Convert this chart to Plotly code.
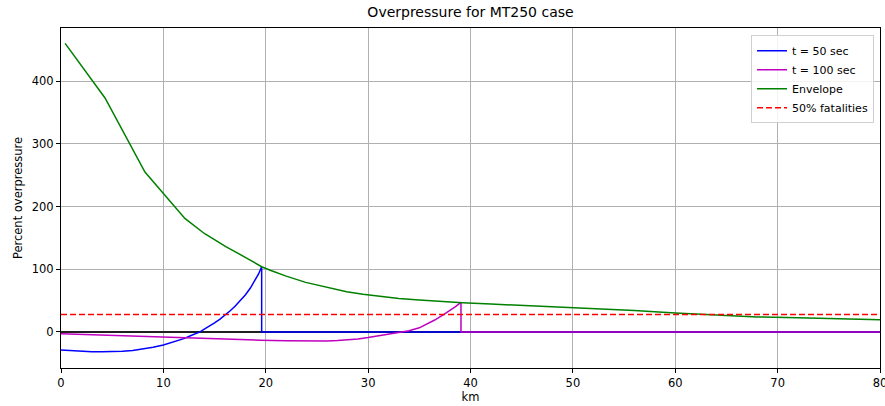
import plotly.graph_objects as go

# t = 50 sec profile
t50_x = [0, 1, 2, 3, 4, 5, 6, 7, 8, 9, 10, 11, 12, 12.76, 13.58, 14, 14.5, 15, 15.5, 16, 16.5, 17, 17.5, 18, 18.5, 19, 19.3, 19.6, 19.6, 80]
t50_y = [-28.7, -30.0, -30.9, -31.4, -31.6, -31.4, -30.7, -29.4, -27.4, -24.5, -20.7, -16.2, -10.7, -5.2, 0, 4.5, 9.2, 14.3, 20, 26.3, 33.3, 41, 49.5, 59, 70, 83, 92.5, 104, 0, 0]

# t = 100 sec profile
t100_x = [0, 4, 8, 12, 16, 19.4, 22, 24, 25, 26, 27, 28, 29, 30, 31, 32, 33, 33.44, 34, 35, 35.72, 36.5, 37.41, 38, 38.5, 39.07, 39.07, 80]
t100_y = [-3, -5.2, -7.6, -10, -12, -13.2, -14.1, -14.5, -14.6, -14.4, -13.8, -12.8, -11.2, -9, -6.5, -3.7, -1.2, 0, 2, 6.6, 12.2, 19, 28, 34, 40, 47, 0, 0]

# Envelope
env_x = [0.4, 4.3, 8.2, 12.1, 14, 16.1, 18, 19.6, 20.5, 22, 23.9, 26, 27.9, 29.5, 31.5, 33, 35, 37, 39.2, 42, 44, 48, 52, 56, 60, 64, 68, 72, 76, 80]
env_y = [460, 373, 255, 181, 157, 136, 119, 104, 98, 89, 79, 71, 64, 60, 56, 53.5, 51, 48.5, 46.5, 44.5, 43, 40.5, 37.5, 34, 30, 26.5, 24, 22.5, 21, 19.6]

# 50% fatalities threshold
fat_x = [0, 80]
fat_y = [28, 28]

font = "DejaVu Sans"

fig = go.Figure()
fig.add_trace(go.Scatter(x=t50_x, y=t50_y, mode="lines", name="t = 50 sec",
                         line=dict(color="#0000ff", width=1.5)))
fig.add_trace(go.Scatter(x=t100_x, y=t100_y, mode="lines", name="t = 100 sec",
                         line=dict(color="#bf00bf", width=1.5)))
fig.add_trace(go.Scatter(x=env_x, y=env_y, mode="lines", name="Envelope",
                         line=dict(color="#008000", width=1.5)))
fig.add_trace(go.Scatter(x=fat_x, y=fat_y, mode="lines", name="50% fatalities",
                         line=dict(color="#ff0000", width=1.5, dash="6px,3px")))

axis_common = dict(showline=True, mirror=True, linecolor="black", linewidth=1,
                   showgrid=True, gridcolor="#b0b0b0", gridwidth=1,
                   ticks="outside", ticklen=4, tickcolor="black",
                   ticklabeloverflow="allow", automargin=False,
                   tickfont=dict(family=font, size=11.5, color="black"))

fig.update_xaxes(range=[0, 80], tickvals=[0, 10, 20, 30, 40, 50, 60, 70, 80],
                 zeroline=False,
                 title=dict(text="km", font=dict(family=font, size=11.5, color="black"), standoff=4),
                 **axis_common)
fig.update_yaxes(range=[-57.5, 484.6], tickvals=[0, 100, 200, 300, 400],
                 zeroline=True, zerolinecolor="#202020", zerolinewidth=2,
                 title=dict(text="Percent overpressure", font=dict(family=font, size=11.5, color="black"), standoff=6),
                 **axis_common)

fig.update_layout(
    width=885, height=406,
    margin=dict(l=61, r=5, t=28, b=38, autoexpand=False),
    paper_bgcolor="white", plot_bgcolor="white",
    title=dict(text="Overpressure for MT250 case", x=0.5, xref="paper", xanchor="center",
               y=1, yref="container", yanchor="top", pad=dict(t=7),
               font=dict(family=font, size=14, color="black")),
    legend=dict(x=0.9927, y=0.979, xanchor="right", yanchor="top",
                bgcolor="rgba(255,255,255,0.85)", bordercolor="#d0d0d0", borderwidth=1,
                font=dict(family=font, size=11, color="black"),
                tracegroupgap=0, itemwidth=30),
    showlegend=True,
)

fig.write_html("out.html")
